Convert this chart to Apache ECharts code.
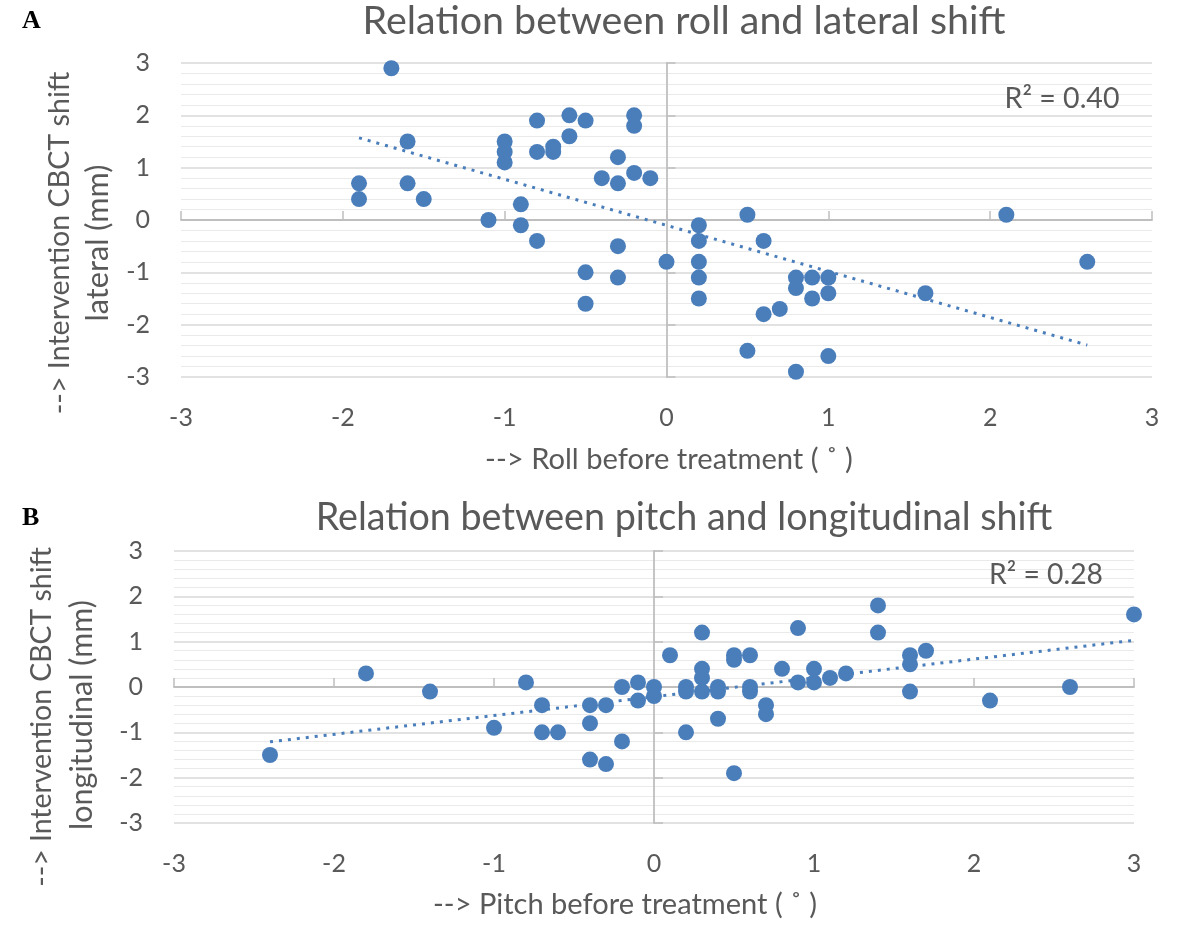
<!DOCTYPE html>
<html><head><meta charset="utf-8">
<script src="https://cdn.jsdelivr.net/npm/echarts@6/dist/echarts.min.js"></script>
<style>html,body{margin:0;padding:0;background:#fff}#c{width:1185px;height:934px}</style>
</head><body><div id="c"></div>
<script>
// ---- Panel A: roll vs lateral shift ----
const rollX = [-1.9,-1.9,-1.7,-1.6,-1.6,-1.5,-1.1,-1.0,-1.0,-1.0,-0.9,-0.9,-0.8,-0.8,-0.8,-0.7,-0.7,-0.6,-0.6,-0.5,-0.5,-0.5,-0.4,-0.3,-0.3,-0.3,-0.3,-0.2,-0.2,-0.2,-0.1,0.0,0.2,0.2,0.2,0.2,0.2,0.5,0.5,0.6,0.6,0.7,0.8,0.8,0.8,0.9,0.9,1.0,1.0,1.0,1.6,2.1,2.6];
const lateralY = [0.7,0.4,2.9,1.5,0.7,0.4,0.0,1.5,1.3,1.1,0.3,-0.1,1.9,1.3,-0.4,1.4,1.3,2.0,1.6,1.9,-1.0,-1.6,0.8,1.2,0.7,-0.5,-1.1,2.0,1.8,0.9,0.8,-0.8,-0.1,-0.4,-0.8,-1.1,-1.5,0.1,-2.5,-0.4,-1.8,-1.7,-1.1,-1.3,-2.9,-1.1,-1.5,-1.1,-1.4,-2.6,-1.4,0.1,-0.8];
const trendAX = [-1.9, 2.6];
const trendAY = [1.57, -2.39];
const r2A = 'R\u00B2 = 0.40';

// ---- Panel B: pitch vs longitudinal shift ----
const pitchX = [-2.4,-1.8,-1.4,-1.0,-0.8,-0.7,-0.7,-0.6,-0.4,-0.4,-0.4,-0.3,-0.3,-0.2,-0.2,-0.1,-0.1,0.0,0.0,0.1,0.2,0.2,0.2,0.3,0.3,0.3,0.3,0.4,0.4,0.4,0.5,0.5,0.5,0.6,0.6,0.6,0.7,0.7,0.8,0.9,0.9,1.0,1.0,1.1,1.2,1.4,1.4,1.6,1.6,1.6,1.7,2.1,2.6,3.0];
const longitudinalY = [-1.5,0.3,-0.1,-0.9,0.1,-0.4,-1.0,-1.0,-0.4,-0.8,-1.6,-0.4,-1.7,0.0,-1.2,0.1,-0.3,0.0,-0.2,0.7,0.0,-0.1,-1.0,1.2,0.4,0.2,-0.1,0.0,-0.1,-0.7,0.7,0.6,-1.9,0.7,0.0,-0.1,-0.4,-0.6,0.4,1.3,0.1,0.4,0.1,0.2,0.3,1.8,1.2,0.7,0.5,-0.1,0.8,-0.3,0.0,1.6];
const trendBX = [-2.4, 3.0];
const trendBY = [-1.21, 1.03];
const r2B = 'R\u00B2 = 0.28';

// ---- axis range / labels ----
const axisMin = -3, axisMax = 3, axisStep = 1;
const titleA = 'Relation between roll and lateral shift';
const titleB = 'Relation between pitch and longitudinal shift';
const xNameA = '--> Roll before treatment ( \u02DA )';
const xNameB = '--> Pitch before treatment ( \u02DA )';
const yNameA = ['--> Intervention CBCT shift', 'lateral (mm)'];
const yNameB = ['--> Intervention CBCT shift', 'longitudinal (mm)'];

const blue = '#4a7ebb', gray = '#595959', axisGray = '#bfbfbf';
const FONT = 'Lato, "Open Sans", sans-serif';
const meas = document.createElement('canvas').getContext('2d');
function fit(text, target, family, weight) {
  meas.font = (weight || 'normal') + ' 100px ' + (family || FONT);
  return 100 * target / meas.measureText(text).width;
}
function zip(xs, ys) { return xs.map((x, i) => [x, ys[i]]); }

function xAxes(g) {
  return [
    { gridIndex: g, type: 'value', min: axisMin, max: axisMax, interval: axisStep,
      axisLine: { show: false, onZero: false }, axisTick: { show: false }, splitLine: { show: false },
      axisLabel: { color: gray, fontSize: 25, fontFamily: FONT, margin: 28 } },
    { gridIndex: g, type: 'value', min: axisMin, max: axisMax, interval: axisStep,
      axisLine: { show: true, onZero: true, lineStyle: { color: axisGray, width: 1.8 } },
      axisTick: { show: true, length: 9, lineStyle: { color: axisGray, width: 1.5 } },
      axisLabel: { show: false }, splitLine: { show: false } }
  ];
}
function yAxes(g) {
  return [
    { gridIndex: g, type: 'value', min: axisMin, max: axisMax, interval: axisStep,
      axisLine: { show: false, onZero: false }, axisTick: { show: false },
      splitLine: { show: true, lineStyle: { color: '#d9d9d9', width: 1.5 } },
      minorTick: { show: false, splitNumber: 5 },
      minorSplitLine: { show: true, lineStyle: { color: '#eaeaea', width: 1 } },
      axisLabel: { color: gray, fontSize: 25, fontFamily: FONT, margin: 31 } },
    { gridIndex: g, type: 'value', min: axisMin, max: axisMax, interval: axisStep,
      axisLine: { show: true, onZero: true, lineStyle: { color: axisGray, width: 1.8 } },
      axisTick: { show: true, length: 9, lineStyle: { color: axisGray, width: 1.5 } },
      axisLabel: { show: false }, splitLine: { show: false } }
  ];
}

function txt(text, x, y, size, opts) {
  opts = opts || {};
  return { type: 'text', x: x, y: y, rotation: opts.rot || 0, z: 100,
    style: { text: text, x: 0, y: 0, fill: opts.color || gray, fontSize: size,
      fontFamily: opts.family || FONT, fontWeight: opts.weight || 'normal',
      align: opts.align || 'center', textAlign: opts.align || 'center',
      verticalAlign: 'middle', textVerticalAlign: 'middle' } };
}

const ROT = Math.PI / 2;
const graphics = [
  txt('A', 22, 21, 26, { family: '"Liberation Serif", serif', weight: 'bold', color: '#000', align: 'left' }),
  txt('B', 22, 518, 26, { family: '"Liberation Serif", serif', weight: 'bold', color: '#000', align: 'left' }),
  txt(titleA, 684, 21, fit(titleA, 643)),
  txt(titleB, 684, 518, fit(titleB, 737)),
  txt(xNameA, 669, 460, fit(xNameA, 368)),
  txt(xNameB, 625, 905, fit(xNameB, 384)),
  txt(yNameA[0], 60, 243, fit(yNameA[0], 343), { rot: ROT }),
  txt(yNameA[1], 98, 243, fit(yNameA[1], 157), { rot: ROT }),
  txt(yNameB[0], 42, 717, fit(yNameB[0], 340), { rot: ROT }),
  txt(yNameB[1], 82, 715, fit(yNameB[1], 230), { rot: ROT }),
  txt(r2A, 1062, 99, fit(r2A, 115)),
  txt(r2B, 1046, 575, fit(r2B, 114))
];

const trendStyle = { color: blue, width: 3, type: [3, 6] };
const option = {
  animation: false,
  backgroundColor: '#fff',
  grid: [
    { left: 181, top: 63, width: 971, height: 314 },
    { left: 174, top: 551, width: 960, height: 272 }
  ],
  xAxis: xAxes(0).concat(xAxes(1)),
  yAxis: yAxes(0).concat(yAxes(1)),
  graphic: graphics,
  series: [
    { type: 'scatter', xAxisIndex: 0, yAxisIndex: 0, data: zip(rollX, lateralY), symbolSize: 16,
      itemStyle: { color: blue, opacity: 1 }, z: 3 },
    { type: 'line', xAxisIndex: 0, yAxisIndex: 0, data: zip(trendAX, trendAY), symbol: 'none',
      lineStyle: trendStyle, z: 4 },
    { type: 'scatter', xAxisIndex: 2, yAxisIndex: 2, data: zip(pitchX, longitudinalY), symbolSize: 16,
      itemStyle: { color: blue, opacity: 1 }, z: 3 },
    { type: 'line', xAxisIndex: 2, yAxisIndex: 2, data: zip(trendBX, trendBY), symbol: 'none',
      lineStyle: trendStyle, z: 4 }
  ]
};
const chart = echarts.init(document.getElementById('c'), null, { renderer: 'canvas' });
chart.setOption(option);
</script>
</body></html>
